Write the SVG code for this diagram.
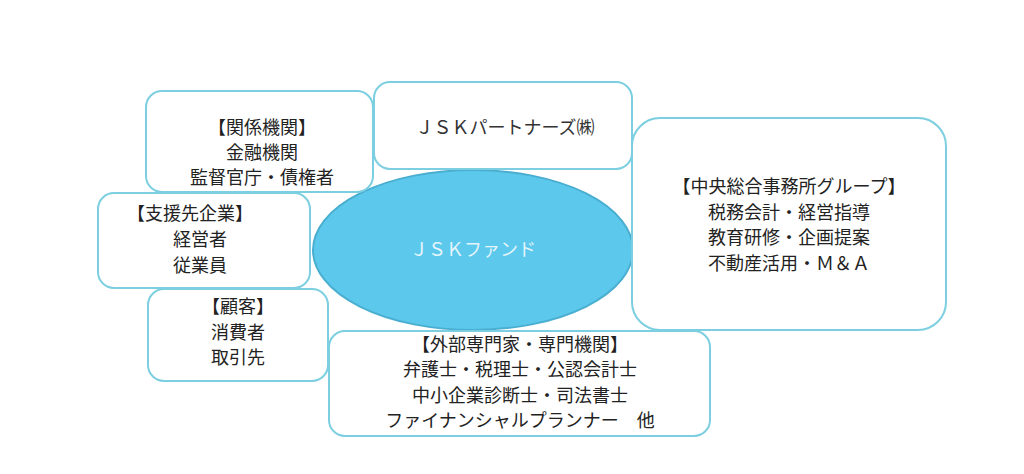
<svg xmlns="http://www.w3.org/2000/svg" width="1024" height="474" viewBox="0 0 1024 474">
<style>
.b{fill:#fff;stroke:#7ccfe0;stroke-width:2}
text{font-family:"Noto Sans CJK JP","Noto Sans CJK SC",sans-serif;font-size:18px;fill:#222;text-anchor:middle}
</style>
<rect width="1024" height="474" fill="#fff"/>
<g id="connectors"/>
<g id="fund"><ellipse cx="473" cy="250" rx="160" ry="80" fill="#5bc8ec" stroke="#4aaed0" stroke-width="2"/>
<text x="473" y="256" fill="#e8f7fc" style="fill:#e4f5fb">ＪＳＫファンド</text></g>
<g id="kankei"><rect class="b" x="146" y="91" width="227" height="101" rx="16"/>
<text x="262" y="134">【関係機関】</text><text x="262" y="159">金融機関</text><text x="262" y="184">監督官庁・債権者</text></g>
<g id="partners"><rect class="b" x="374" y="82" width="258" height="87" rx="16"/>
<text x="505" y="134" style="fill:#333">ＪＳＫパートナーズ㈱</text></g>
<g id="shien"><rect class="b" x="98" y="193" width="212" height="95" rx="16"/>
<text x="190" y="220">【支援先企業】</text><text x="200" y="246">経営者</text><text x="200" y="272">従業員</text></g>
<g id="kokyaku"><rect class="b" x="148" y="289" width="180" height="92" rx="16"/>
<text x="238" y="313">【顧客】</text><text x="238" y="339">消費者</text><text x="238" y="364">取引先</text></g>
<g id="gaibu"><rect class="b" x="329" y="331" width="381" height="105" rx="16"/>
<text x="520" y="351">【外部専門家・専門機関】</text><text x="520" y="376">弁護士・税理士・公認会計士</text><text x="520" y="402">中小企業診断士・司法書士</text><text x="520" y="427">ファイナンシャルプランナー　他</text></g>
<g id="chuo"><rect class="b" x="632" y="118" width="314" height="212" rx="28"/>
<text x="789" y="193">【中央総合事務所グループ】</text><text x="789" y="219">税務会計・経営指導</text><text x="789" y="244">教育研修・企画提案</text><text x="789" y="270">不動産活用・Ｍ＆Ａ</text></g>
</svg>
